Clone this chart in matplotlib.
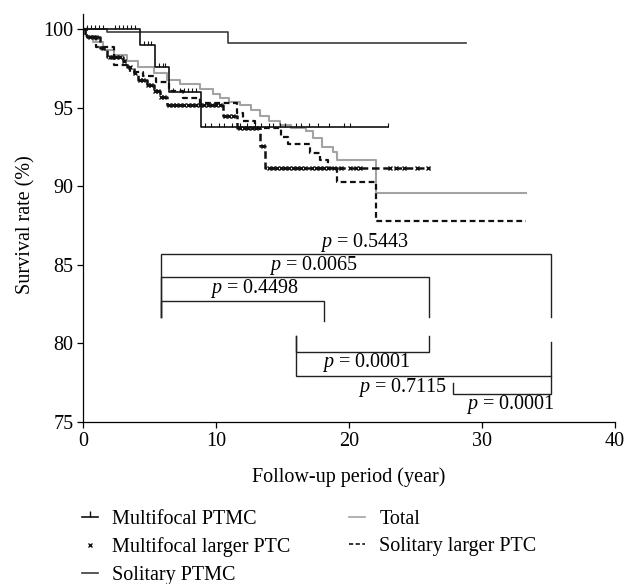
import numpy as np
import matplotlib
matplotlib.use('Agg')
import matplotlib.pyplot as plt
from matplotlib.lines import Line2D

plt.rcParams['font.family'] = ['Liberation Serif', 'DejaVu Serif']
plt.rcParams['mathtext.fontset'] = 'custom'
plt.rcParams['mathtext.rm'] = 'Liberation Serif'
plt.rcParams['mathtext.it'] = 'Liberation Serif:italic'
FS = 14.5

# Kaplan-Meier step curves (time in years, survival in %)
mptmc_t = [0, 4.3, 5.4, 6.5, 8.85, 22.9]
mptmc_s = [100, 99.0, 97.6, 96.0, 93.8, 93.8]
mptmc_cens = [0.3, 0.6, 0.9, 1.2, 1.5, 2.4, 2.7, 3.0, 3.3, 3.6, 3.9, 4.6, 4.9, 5.1,
              5.7, 6.0, 6.2, 6.8, 7.3, 7.6, 7.9, 8.2, 8.5, 9.2, 9.6, 10.2, 10.6,
              11.2, 11.8, 12.3, 12.9, 13.4, 14.0, 14.3, 14.8, 15.2, 16.0, 16.4,
              17.0, 17.7, 18.5, 19.6, 20.1, 22.9]

mlptc_t = [0, 0.15, 1.3, 1.8, 3.0, 3.3, 3.8, 4.1, 4.8, 5.3, 5.8, 6.3, 10.5, 11.6, 13.3, 13.7, 26.1]
mlptc_s = [100, 99.5, 98.8, 98.25, 98.0, 97.6, 97.2, 96.8, 96.45, 96.1, 95.7, 95.2, 94.5, 93.7, 92.55, 91.2, 91.2]
mlptc_cens = [0.5, 0.8, 1.0, 1.5, 2.0, 2.2, 2.5, 2.8, 3.1, 3.5, 3.9, 4.3, 4.5, 4.9, 5.1,
              5.4, 5.6, 5.9, 6.1, 6.5, 6.8, 7.0, 7.3, 7.6, 7.9, 8.2, 8.5, 8.8, 9.1,
              9.4, 9.7, 10.0, 10.3, 10.7, 11.0, 11.3, 11.8, 12.1, 12.4, 12.7, 13.0,
              13.5, 14.0, 14.3, 14.6, 14.9, 15.2, 15.5, 15.8, 16.1, 16.4, 16.7,
              17.2, 17.5, 17.8, 18.1, 18.4, 18.9, 19.4, 20.1, 20.5, 20.8, 23.1,
              23.5, 24.1, 25.1, 25.9]

sptmc_t = [0, 1.8, 10.9, 28.8]
sptmc_s = [100, 99.8, 99.1, 99.1]

slptc_t = [0, 0.3, 1.0, 2.3, 3.5, 4.5, 5.5, 6.5, 7.5, 8.8, 11.6, 12.0, 12.9, 14.9,
           15.4, 17.1, 17.8, 18.4, 19.1, 22.0, 33.3]
slptc_s = [100, 99.5, 98.9, 97.7, 97.3, 97.0, 96.65, 96.1, 95.65, 95.3, 94.7, 94.15,
           93.7, 93.15, 92.7, 92.1, 91.65, 91.2, 90.3, 87.8, 87.8]

total_t = [0, 0.2, 0.75, 1.5, 2.3, 3.3, 4.1, 5.3, 6.3, 7.3, 8.8, 9.8, 10.3, 11.0, 11.8,
           12.6, 13.3, 14.0, 14.8, 15.6, 16.8, 17.3, 18.0, 18.8, 19.1, 22.0, 33.3]
total_s = [100, 99.6, 99.2, 98.7, 98.35, 98.0, 97.6, 97.2, 96.8, 96.5, 96.2, 95.9, 95.65,
           95.4, 95.2, 94.85, 94.5, 94.15, 93.9, 93.7, 93.5, 93.05, 92.5, 92.2, 91.65,
           89.6, 89.6]

# p-value brackets: (x_left, x_right, y_bar, y_left_end, y_right_end, label, text_x, text_y)
brackets = [
    (5.9, 35.2, 85.7, 81.66, 81.66, '0.5443', 21.2, 86.45),
    (5.9, 26.0, 84.2, 81.66, 81.66, '0.0065', 17.3, 84.96),
    (5.9, 18.1, 82.7, 81.66, 81.45, '0.4498', 12.9, 83.47),
    (16.0, 26.0, 79.43, 80.49, 80.49, '0.0001', 21.3, 78.8),
    (16.0, 35.2, 77.94, 80.49, 80.07, '0.7115', 24.0, 77.2),
    (27.8, 35.2, 76.8, 77.5, 77.94, '0.0001', 32.1, 76.13),
]


def surv_at(t, s, c):
    idx = np.searchsorted(t, c, side='right') - 1
    return np.asarray(s)[idx]


fig = plt.figure(figsize=(6.27, 5.84), dpi=100)
ax = fig.add_axes([0.1324, 0.2774, 0.8486, 0.6993])

ax.step(total_t, total_s, where='post', color='#a3a3a3', lw=1.5, zorder=2)
ax.step(sptmc_t, sptmc_s, where='post', color='#3c3c3c', lw=1.2, zorder=3)
ax.step(slptc_t, slptc_s, where='post', color='#111111', lw=1.6,
        ls=(0, (2.6, 1.6)), zorder=3)
ax.step(mptmc_t, mptmc_s, where='post', color='#111111', lw=1.2, zorder=4)
ax.plot(mptmc_cens, surv_at(mptmc_t, mptmc_s, mptmc_cens), ls='none',
        marker=2, ms=3, mew=0.8, color='#111111', zorder=4)
ax.step(mlptc_t, mlptc_s, where='post', color='#111111', lw=1.8,
        ls=(0, (3, 1.5)), zorder=4)
ax.plot(mlptc_cens, surv_at(mlptc_t, mlptc_s, mlptc_cens), ls='none',
        marker='x', ms=3.5, mew=1.0, color='#111111', zorder=4)

for xl, xr, yb, yl, yr, lab, tx, ty in brackets:
    ax.plot([xl, xl, xr, xr], [yl, yb, yb, yr], color='#222222', lw=1.0,
            solid_joinstyle='miter', zorder=2)
    ax.text(tx, ty, r'$p$ = ' + lab, ha='center', va='center', fontsize=FS)

ax.set_xlim(0, 40)
ax.set_ylim(75, 101)
ax.set_xticks([0, 10, 20, 30, 40])
ax.set_yticks([75, 80, 85, 90, 95, 100])
ax.tick_params(direction='out', length=4, width=0.9, labelsize=FS, pad=3)
for side in ['top', 'right']:
    ax.spines[side].set_visible(False)
for side in ['left', 'bottom']:
    ax.spines[side].set_linewidth(0.9)
ax.set_xlabel('Follow-up period (year)', fontsize=FS, labelpad=12)
ax.set_ylabel('Survival rate (%)', fontsize=FS)
ax.yaxis.set_label_coords(-0.089, 0.483)

handles = [
    Line2D([], [], color='#111111', lw=1.2, marker=2, ms=4, mew=1.0),
    Line2D([], [], color='#111111', lw=0, marker='x', ms=3.5, mew=1.0),
    Line2D([], [], color='#3c3c3c', lw=1.2),
    Line2D([], [], color='#a3a3a3', lw=1.2),
    Line2D([], [], color='#111111', lw=1.2, ls=(0, (2.5, 1.5))),
]
labels = ['Multifocal PTMC', 'Multifocal larger PTC', 'Solitary PTMC',
          'Total', 'Solitary larger PTC']
fig.legend(handles, labels, loc='upper left', bbox_to_anchor=(0.131, 0.127),
           ncol=2, frameon=False, fontsize=FS, handlelength=0.8,
           handletextpad=0.7, columnspacing=2.9, labelspacing=0.42,
           borderpad=0, borderaxespad=0)

fig.savefig('out.png', dpi=100)
